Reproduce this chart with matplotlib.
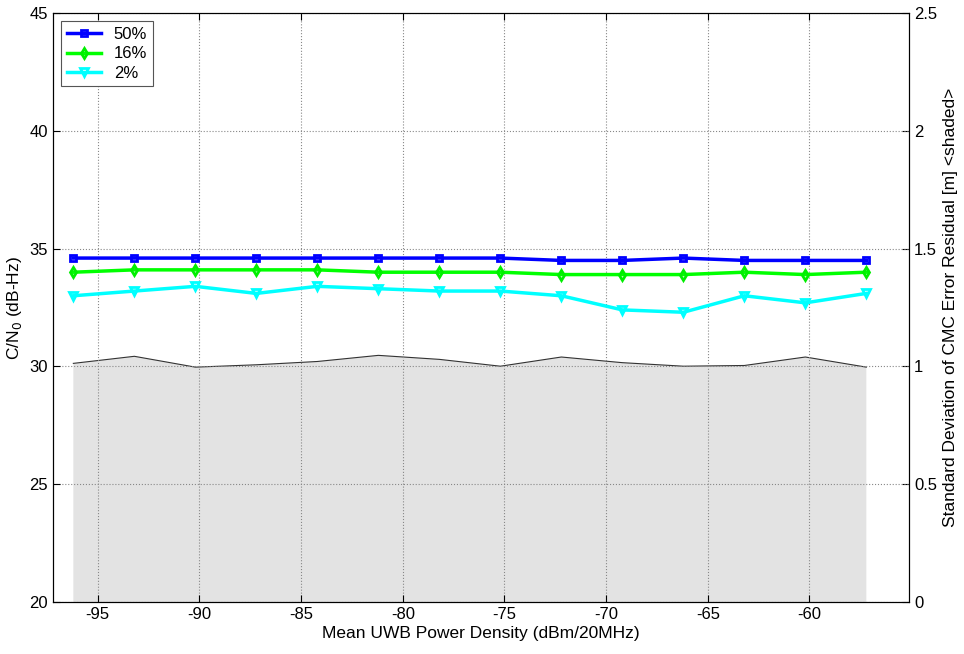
import numpy as np
import matplotlib.pyplot as plt

plt.rcParams['font.family'] = ['Liberation Sans', 'DejaVu Sans']
plt.rcParams['axes.unicode_minus'] = False

# mean UWB power density (dBm/20MHz)
power = [-96.2, -93.2, -90.2, -87.2, -84.2, -81.2, -78.2, -75.2,
         -72.2, -69.2, -66.2, -63.2, -60.2, -57.2]

# C/N0 percentiles (dB-Hz)
cn0_50 = [34.6, 34.6, 34.6, 34.6, 34.6, 34.6, 34.6, 34.6,
          34.5, 34.5, 34.6, 34.5, 34.5, 34.5]
cn0_16 = [34.0, 34.1, 34.1, 34.1, 34.1, 34.0, 34.0, 34.0,
          33.9, 33.9, 33.9, 34.0, 33.9, 34.0]
cn0_2 = [33.0, 33.2, 33.4, 33.1, 33.4, 33.3, 33.2, 33.2,
         33.0, 32.4, 32.3, 33.0, 32.7, 33.1]

# std of CMC error residual (m), shaded
cmc_std = [1.013, 1.043, 0.997, 1.007, 1.021, 1.047, 1.030, 1.001,
           1.040, 1.016, 1.001, 1.004, 1.040, 0.997]

fig = plt.figure(figsize=(9.64, 6.54), dpi=100)
ax = fig.add_axes([0.055, 0.0795, 0.888, 0.9005])
ax2 = ax.twinx()

# shaded area on the right axis, behind the lines
ax2.fill_between(power, 0, cmc_std, facecolor='#e3e3e3', edgecolor='none')
ax2.plot(power, cmc_std, color='#333333', linewidth=0.8)
ax2.set_ylim(0, 2.5)
ax2.set_yticks([0, 0.5, 1, 1.5, 2, 2.5])
ax2.set_yticklabels(['0', '0.5', '1', '1.5', '2', '2.5'])
ax2.set_ylabel('Standard Deviation of CMC Error Residual [m] <shaded>',
               fontsize=12.5, labelpad=4)

ax.set_zorder(ax2.get_zorder() + 1)
ax.patch.set_visible(False)

ax.plot(power, cn0_50, color='#0000ff', marker='s', mfc='none', mec='#0000ff',
        markersize=5, mew=2, linewidth=2.5, label='50%')
ax.plot(power, cn0_16, color='#00ff00', marker='d', mfc='none', mec='#00ee00',
        markersize=5, mew=2, linewidth=2.5, label='16%')
ax.plot(power, cn0_2, color='#00ffff', marker='v', mfc='none', mec='#00ffff',
        markersize=6, mew=2, linewidth=2.5, label='2%')

ax.set_xlim(-97.2, -55.1)
ax.set_ylim(20, 45)
ax.set_xticks(range(-95, -55, 5))
ax.set_yticks(range(20, 46, 5))
ax.grid(True, linestyle=':', color='#888888', linewidth=0.8)
ax.set_xlabel('Mean UWB Power Density (dBm/20MHz)', fontsize=12.5, labelpad=3)
ax.set_ylabel('C/N$_0$ (dB-Hz)', fontsize=12.5, labelpad=4)

for a in (ax, ax2):
    a.tick_params(direction='in', labelsize=12, length=5)
    for s in a.spines.values():
        s.set_linewidth(0.8)
ax.tick_params(top=True)

leg = ax.legend(loc='upper left', fontsize=12, fancybox=False, framealpha=1,
                edgecolor='#555555', borderaxespad=0.5, handlelength=2.0,
                labelspacing=0.25, borderpad=0.35, handletextpad=0.8)
leg.get_frame().set_linewidth(0.8)

fig.savefig('out.png', dpi=100)
